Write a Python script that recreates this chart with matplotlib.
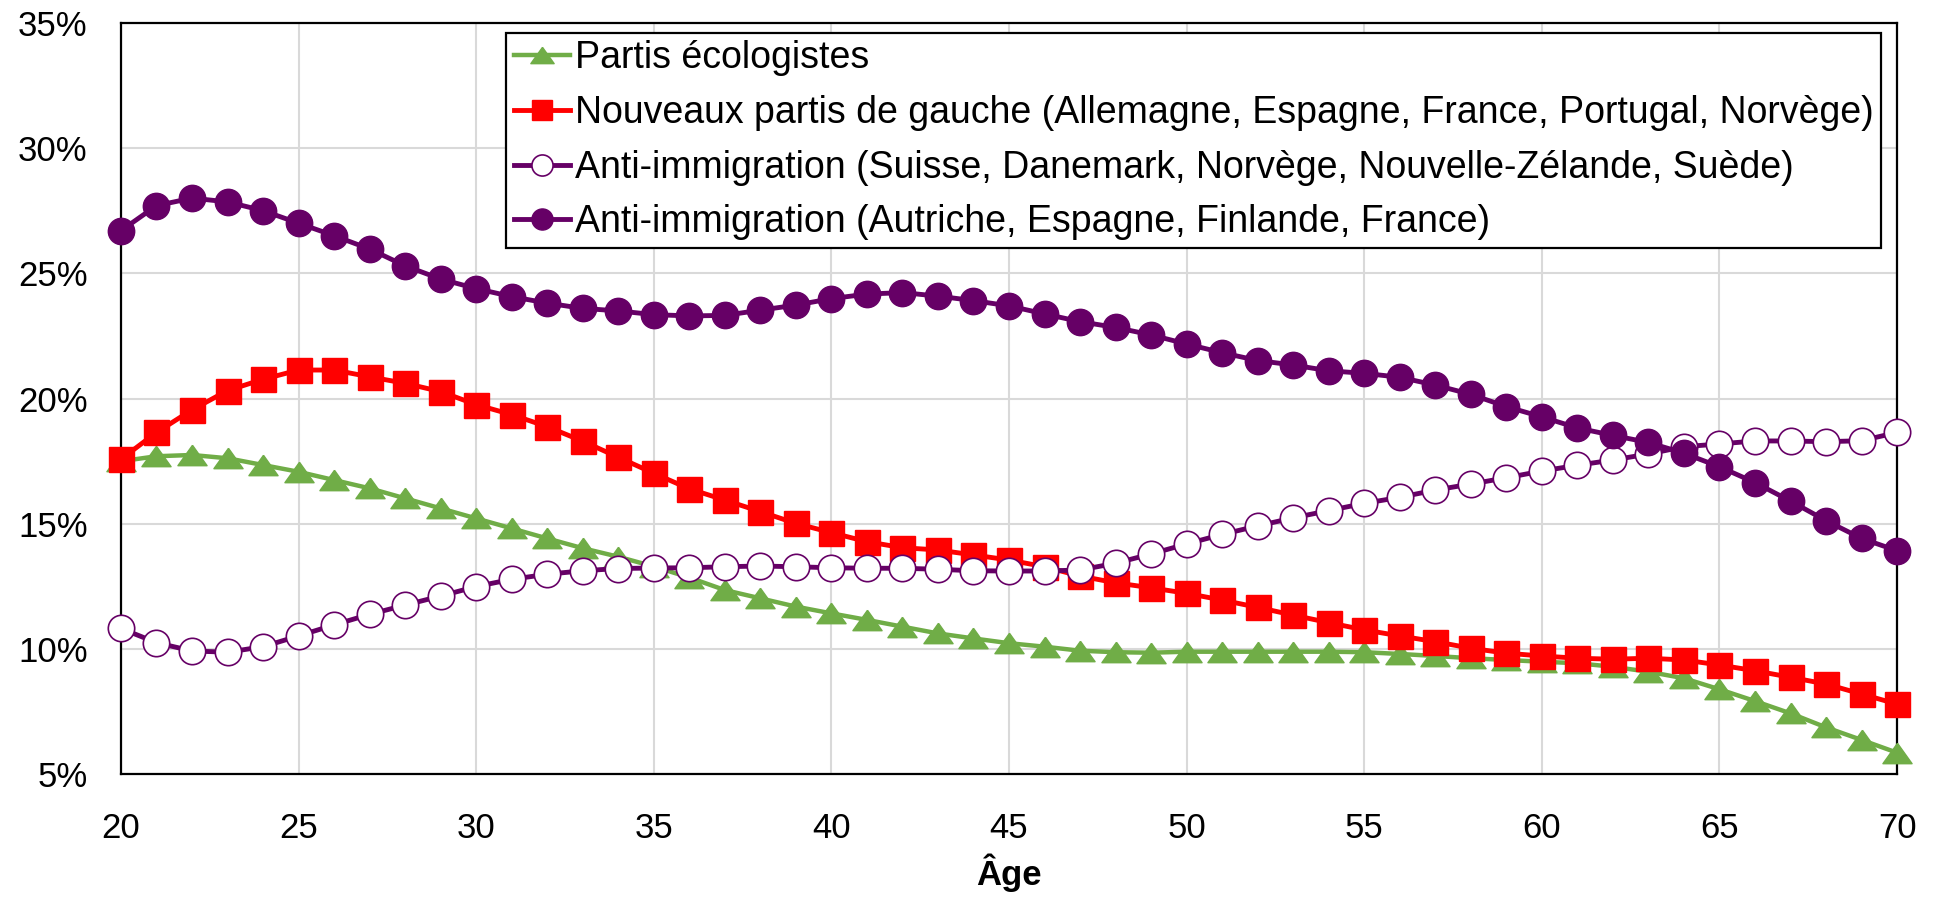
import matplotlib
matplotlib.use("Agg")
import matplotlib.pyplot as plt


ages = list(range(20, 71))

ecolo = [17.5, 17.7, 17.75, 17.62, 17.35, 17.08, 16.75, 16.42, 16.02, 15.62,
         15.22, 14.82, 14.42, 14.03, 13.69, 13.3, 12.86, 12.36, 12.03, 11.7,
         11.43, 11.17, 10.9, 10.63, 10.43, 10.24, 10.1, 9.94, 9.88, 9.86,
         9.9, 9.9, 9.9, 9.9, 9.9, 9.88, 9.81, 9.73, 9.64, 9.57,
         9.5, 9.44, 9.3, 9.1, 8.84, 8.4, 7.93, 7.44, 6.88, 6.38,
         5.87]

gauche = [17.58, 18.65, 19.55, 20.32, 20.77, 21.14, 21.14, 20.87, 20.61, 20.28,
          19.76, 19.36, 18.88, 18.3, 17.66, 17.02, 16.4, 15.95, 15.49, 15.02,
          14.65, 14.29, 14.05, 13.96, 13.76, 13.56, 13.29, 12.92, 12.65, 12.45,
          12.23, 11.96, 11.67, 11.36, 11.06, 10.77, 10.53, 10.3, 10.04, 9.84,
          9.73, 9.64, 9.6, 9.64, 9.57, 9.37, 9.14, 8.88, 8.61, 8.21,
          7.81]

immig_nord = [10.83, 10.26, 9.93, 9.88, 10.1, 10.53, 10.97, 11.39, 11.76, 12.12,
              12.5, 12.79, 12.99, 13.13, 13.22, 13.24, 13.25, 13.29, 13.32, 13.29,
              13.25, 13.23, 13.23, 13.19, 13.13, 13.12, 13.12, 13.16, 13.43, 13.8,
              14.2, 14.58, 14.92, 15.24, 15.53, 15.82, 16.06, 16.35, 16.59, 16.84,
              17.11, 17.34, 17.55, 17.79, 18.08, 18.19, 18.31, 18.31, 18.28, 18.32,
              18.65]

immig_sud = [26.7, 27.7, 28.0, 27.85, 27.5, 27.0, 26.5, 25.97, 25.3, 24.77,
             24.39, 24.07, 23.81, 23.6, 23.5, 23.35, 23.3, 23.32, 23.53, 23.73,
             23.99, 24.17, 24.23, 24.09, 23.91, 23.7, 23.38, 23.07, 22.84, 22.54,
             22.18, 21.83, 21.52, 21.34, 21.11, 21.01, 20.85, 20.54, 20.17, 19.68,
             19.27, 18.83, 18.53, 18.25, 17.82, 17.28, 16.65, 15.91, 15.13, 14.42,
             13.93]

labels = [
    "Partis écologistes",
    "Nouveaux partis de gauche (Allemagne, Espagne, France, Portugal, Norvège)",
    "Anti-immigration (Suisse, Danemark, Norvège, Nouvelle-Zélande, Suède)",
    "Anti-immigration (Autriche, Espagne, Finlande, France)",
]

y_ticks = [5, 10, 15, 20, 25, 30, 35]
x_ticks = [20, 25, 30, 35, 40, 45, 50, 55, 60, 65, 70]

GREEN = "#70AD47"
RED = "#FF0000"
PURPLE = "#660066"

# flat triangle, wider than tall
TRIANGLE = [(0, 0.7), (-1, -0.7), (1, -0.7), (0, 0.7)]


def main():
    plt.rcParams["font.family"] = ["Liberation Sans", "DejaVu Sans"]
    fig = plt.figure(figsize=(19.35, 9.01), dpi=100)
    ax = fig.add_axes([0.0625, 0.1404, 0.9179, 0.8344])

    ax.plot(ages, ecolo, color=GREEN, lw=3.2, marker=TRIANGLE, ms=21,
            mec=GREEN, mfc=GREEN, label=labels[0], clip_on=False, zorder=3)
    ax.plot(ages, gauche, color=RED, lw=3.5, marker="s", ms=18,
            mec=RED, mfc=RED, label=labels[1], clip_on=False, zorder=4)
    ax.plot(ages, immig_nord, color=PURPLE, lw=3.5, marker="o", ms=19,
            mec=PURPLE, mfc="white", mew=1.2, label=labels[2],
            clip_on=False, zorder=5)
    ax.plot(ages, immig_sud, color=PURPLE, lw=3.5, marker="o", ms=19,
            mec=PURPLE, mfc=PURPLE, label=labels[3], clip_on=False, zorder=6)

    ax.set_xlim(20, 70)
    ax.set_ylim(5, 35)
    ax.set_xticks(x_ticks)
    ax.set_yticks(y_ticks)
    ax.set_yticklabels([f"{v}%" for v in y_ticks])
    ax.tick_params(axis="both", length=0, labelsize=25)
    ax.tick_params(axis="x", pad=27)
    ax.tick_params(axis="y", pad=24)

    ax.grid(True, color="#D9D9D9", lw=1.5)
    ax.set_axisbelow(True)
    for side in ax.spines.values():
        side.set_color("black")
        side.set_linewidth(1.6)

    ax.set_xlabel("Âge", fontsize=25, fontweight="bold", labelpad=6)

    leg = ax.legend(loc="upper left", bbox_to_anchor=(0.2168, 0.9867),
                    borderaxespad=0, fontsize=27, frameon=True, fancybox=False,
                    edgecolor="black", framealpha=1, handlelength=1.5,
                    handletextpad=0.14, labelspacing=0.5, borderpad=0.2,
                    markerscale=0.8)
    leg.get_frame().set_linewidth(1.6)

    fig.savefig("out.png", dpi=100)


if __name__ == "__main__":
    main()
